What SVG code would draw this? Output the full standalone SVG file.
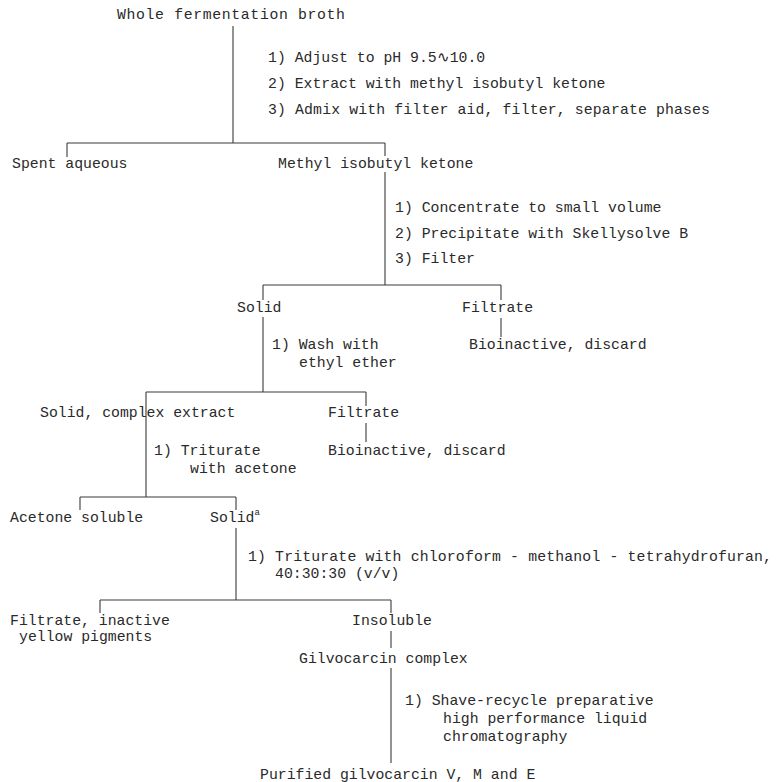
<svg xmlns="http://www.w3.org/2000/svg" width="777" height="782" viewBox="0 0 777 782">
<style>
text{font-family:"Liberation Mono","DejaVu Sans Mono",monospace;font-size:14.8px;fill:#2a2a2a}
.sup{font-size:9px}
#connectors line{stroke:#3a3a3a;stroke-width:1.1}
</style>
<rect width="777" height="782" fill="#ffffff"/>
<g id="connectors">
<line x1="233" y1="26" x2="233" y2="143"/>
<line x1="67" y1="143" x2="385" y2="143"/>
<line x1="67" y1="143" x2="67" y2="157"/>
<line x1="385" y1="143" x2="385" y2="156"/>
<line x1="385" y1="172" x2="385" y2="285"/>
<line x1="263" y1="285" x2="501" y2="285"/>
<line x1="263" y1="285" x2="263" y2="300"/>
<line x1="501" y1="285" x2="501" y2="300"/>
<line x1="263" y1="317" x2="263" y2="392"/>
<line x1="501" y1="318" x2="501" y2="337"/>
<line x1="146" y1="392" x2="366" y2="392"/>
<line x1="146" y1="392" x2="146" y2="497"/>
<line x1="366" y1="392" x2="366" y2="406"/>
<line x1="366" y1="423" x2="366" y2="442"/>
<line x1="80" y1="497" x2="236" y2="497"/>
<line x1="80" y1="497" x2="80" y2="510"/>
<line x1="236" y1="497" x2="236" y2="510"/>
<line x1="236" y1="528" x2="236" y2="600"/>
<line x1="100" y1="600" x2="391" y2="600"/>
<line x1="100" y1="600" x2="100" y2="613"/>
<line x1="391" y1="600" x2="391" y2="613"/>
<line x1="391" y1="631" x2="391" y2="648"/>
<line x1="391" y1="668" x2="391" y2="763"/>
</g>
<g id="n-broth"><text x="117" y="19" textLength="228">Whole fermentation broth</text></g>
<g id="step-1"><text x="268" y="62">1) Adjust to pH 9.5∿10.0</text><text x="268" y="88">2) Extract with methyl isobutyl ketone</text><text x="268" y="114" textLength="442">3) Admix with filter aid, filter, separate phases</text></g>
<g id="n-spent"><text x="12" y="168">Spent aqueous</text></g>
<g id="n-mibk"><text x="278" y="168">Methyl isobutyl ketone</text></g>
<g id="step-2"><text x="395" y="212">1) Concentrate to small volume</text><text x="395" y="238">2) Precipitate with Skellysolve B</text><text x="395" y="263">3) Filter</text></g>
<g id="n-solid1"><text x="237" y="312">Solid</text></g>
<g id="n-filtrate1"><text x="462" y="312">Filtrate</text></g>
<g id="n-discard1"><text x="469" y="349">Bioinactive, discard</text></g>
<g id="step-3"><text x="272" y="349">1) Wash with</text><text x="299" y="367">ethyl ether</text></g>
<g id="n-complex"><text x="40" y="417">Solid, complex extract</text></g>
<g id="n-filtrate2"><text x="328" y="417">Filtrate</text></g>
<g id="step-4"><text x="154" y="455">1) Triturate</text><text x="190" y="473">with acetone</text></g>
<g id="n-discard2"><text x="328" y="455">Bioinactive, discard</text></g>
<g id="n-acetone"><text x="10" y="522">Acetone soluble</text></g>
<g id="n-solid2"><text x="210" y="522">Solid<tspan class="sup" dy="-7">a</tspan></text></g>
<g id="step-5"><text x="248" y="561" textLength="524">1) Triturate with chloroform - methanol - tetrahydrofuran,</text><text x="275" y="578">40:30:30 (v/v)</text></g>
<g id="n-filtrate3"><text x="10" y="625">Filtrate, inactive</text><text x="19" y="641">yellow pigments</text></g>
<g id="n-insoluble"><text x="352" y="625">Insoluble</text></g>
<g id="n-gilvo"><text x="299" y="663">Gilvocarcin complex</text></g>
<g id="step-6"><text x="405" y="705">1) Shave-recycle preparative</text><text x="443" y="723">high performance liquid</text><text x="443" y="741">chromatography</text></g>
<g id="n-purified"><text x="260" y="779">Purified gilvocarcin V, M and E</text></g>
</svg>
